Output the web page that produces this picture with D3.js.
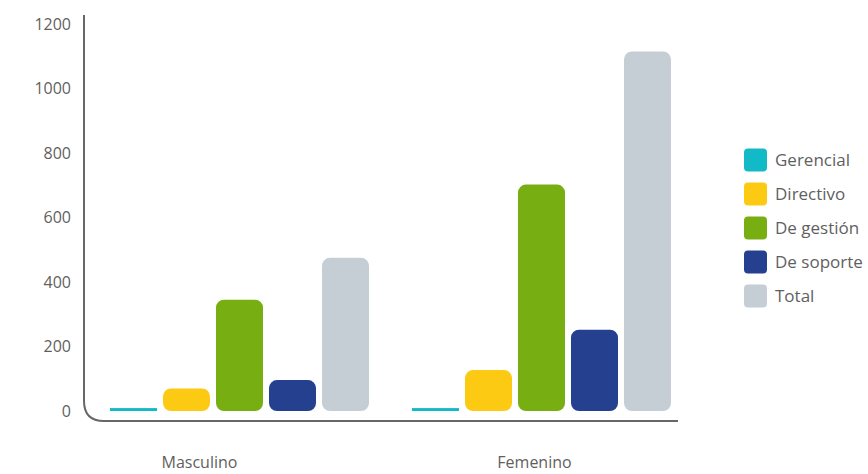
<!DOCTYPE html>
<html>
<head>
  <meta charset="utf-8">
  <script src="https://d3js.org/d3.v7.min.js"></script>
  <style>
    body { margin: 0; background: #fff; }
    text { font-family: "Open Sans", "Noto Sans", sans-serif; fill: #5f5f5f; }
  </style>
</head>
<body>
  <script>
    // data
    var groups = ["Masculino", "Femenino"];
    var series = ["Gerencial", "Directivo", "De gestión", "De soporte", "Total"];
    var colors = ["#12b9c6", "#fdca13", "#77ae12", "#25408f", "#c6ced5"];
    var masculino = [9, 70, 345, 96, 475];
    var femenino = [9, 127, 702, 252, 1115];
    var yTicks = [0, 200, 400, 600, 800, 1000, 1200];

    var values = [masculino, femenino];

    var W = 868, H = 474;
    var svg = d3.select("body").append("svg")
      .attr("width", W)
      .attr("height", H);

    var y = d3.scaleLinear().domain([0, 1200]).range([411, 24]);

    var x0 = d3.scaleBand().domain(groups)
      .range([107, 674])
      .paddingInner(0.1225)
      .paddingOuter(0);

    var x1 = d3.scaleBand().domain(series)
      .range([0, x0.bandwidth()])
      .paddingInner(0.113)
      .paddingOuter(0.0566);

    // axis line: vertical, rounded corner, horizontal
    var ax = 84, ay = 421, r = 20;
    var p = d3.path();
    p.moveTo(ax, 15);
    p.lineTo(ax, ay - r);
    p.quadraticCurveTo(ax, ay, ax + r, ay);
    p.lineTo(678, ay);
    svg.append("path")
      .attr("d", p.toString())
      .attr("fill", "none")
      .attr("stroke", "#676767")
      .attr("stroke-width", 2);

    // tick labels (no tick marks)
    svg.append("g").selectAll("text")
      .data(yTicks)
      .enter()
      .append("text")
      .attr("x", 71)
      .attr("y", function(d){ return y(d); })
      .attr("dy", "0.35em")
      .attr("text-anchor", "end")
      .style("font-size", "16px")
      .text(function(d){ return d; });

    // bars
    var g = svg.append("g").selectAll("g")
      .data(groups)
      .enter()
      .append("g")
      .attr("transform", function(d){ return "translate(" + x0(d) + ",0)"; });

    g.selectAll("rect")
      .data(function(d, i){
        return values[i].map(function(v, j){ return {s: series[j], v: v, c: colors[j]}; });
      })
      .enter()
      .append("rect")
      .attr("x", function(d){ return x1(d.s); })
      .attr("y", function(d){ return y(d.v); })
      .attr("width", x1.bandwidth())
      .attr("height", function(d){ return y(0) - y(d.v); })
      .attr("rx", function(d){ return (y(0) - y(d.v)) < 16 ? 0 : 8; })
      .attr("fill", function(d){ return d.c; });

    // group labels (sit a bit left of the group centre, as in the original)
    var labelShift = [40, 7];
    svg.append("g").selectAll("text")
      .data(groups)
      .enter()
      .append("text")
      .attr("x", function(d, i){ return x0(d) + x0.bandwidth() / 2 - labelShift[i]; })
      .attr("y", 468)
      .attr("text-anchor", "middle")
      .style("font-size", "16px")
      .text(function(d){ return d; });

    // legend
    var leg = svg.append("g").selectAll("g")
      .data(series)
      .enter()
      .append("g")
      .attr("transform", function(d, i){ return "translate(744," + (160 + i * 34) + ")"; });

    leg.append("rect")
      .attr("x", 0)
      .attr("y", -11.5)
      .attr("width", 23)
      .attr("height", 23)
      .attr("rx", 4)
      .attr("fill", function(d, i){ return colors[i]; });

    leg.append("text")
      .attr("x", 31)
      .attr("y", 0)
      .attr("dy", "0.35em")
      .style("font-size", "17px")
      .text(function(d){ return d; });
  </script>
</body>
</html>
